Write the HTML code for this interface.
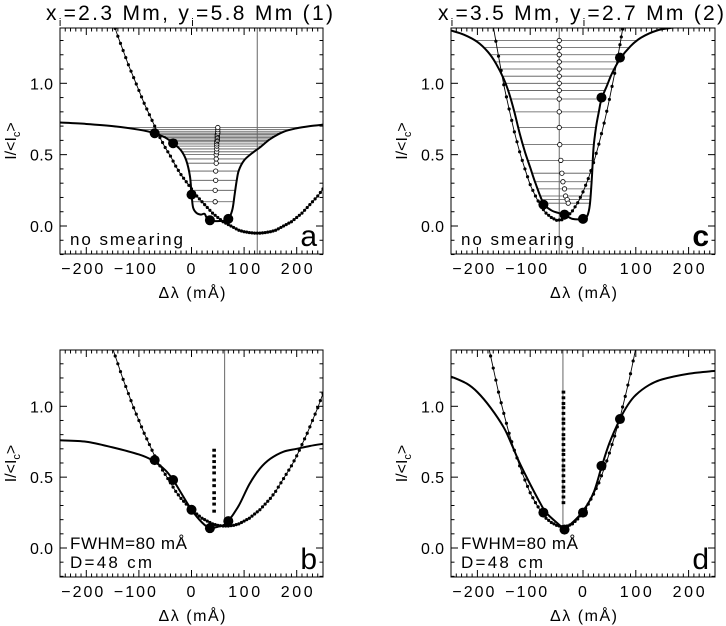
<!DOCTYPE html>
<html><head><meta charset="utf-8"><style>
body{margin:0;background:#fff}
svg{display:block}
text{font-family:"Liberation Sans",sans-serif;fill:#000}
</style></head><body>
<svg id="fig" width="726" height="626" viewBox="0 0 726 626">
<defs>
<clipPath id="clipA"><rect x="60" y="28" width="263" height="226"/></clipPath>
<clipPath id="clipB"><rect x="60" y="350" width="263" height="227"/></clipPath>
<clipPath id="clipC"><rect x="451" y="28" width="264" height="226"/></clipPath>
<clipPath id="clipD"><rect x="451" y="350" width="264" height="227"/></clipPath>
</defs>
<g font-size="21">
<text x="46" y="20" textLength="287" lengthAdjust="spacing">x<tspan font-size="11" dy="6">i</tspan><tspan dy="-6">=2.3 Mm, y</tspan><tspan font-size="11" dy="6">i</tspan><tspan dy="-6">=5.8 Mm (1)</tspan></text>
<text x="438" y="20" textLength="286" lengthAdjust="spacing">x<tspan font-size="11" dy="6">i</tspan><tspan dy="-6">=3.5 Mm, y</tspan><tspan font-size="11" dy="6">i</tspan><tspan dy="-6">=2.7 Mm (2)</tspan></text>
</g>
</svg>
<script>
// ---------- data ----------
const xTicks=[-200,-100,0,100,200];
const xTickLabels=["\u2212200","\u2212100","0","100","200"];
const yTicks=[0,0.5,1.0];
const yTickLabels=["0.0","0.5","1.0"];

const aSolidX=[-250,-200,-150,-100,-70,-50,-35,-20,-10,-3,0,3,10,18,25,30,40,55,65,72,78,82,86,90,100,115,130,150,175,200,225,250];
const aSolidY=[0.725,0.715,0.70,0.675,0.65,0.62,0.58,0.53,0.46,0.35,0.23,0.13,0.09,0.08,0.085,0.05,0.035,0.035,0.04,0.06,0.12,0.22,0.32,0.39,0.46,0.51,0.55,0.61,0.66,0.685,0.70,0.71];
const aParX=[-150,-140,-130,-120,-110,-100,-90,-80,-70,-60,-50,-40,-30,-20,-10,0,10,20,30,40,50,60,70,80,90,100,110,120,130,140,150,160,170,180,190,200,210,220,230,240,250];
const aParY=[1.44,1.33,1.23,1.13,1.04,0.95,0.86,0.78,0.70,0.62,0.55,0.49,0.42,0.36,0.31,0.26,0.21,0.17,0.13,0.09,0.06,0.03,0.01,-0.01,-0.03,-0.04,-0.046,-0.05,-0.05,-0.046,-0.04,-0.03,-0.01,0.01,0.03,0.06,0.09,0.13,0.17,0.21,0.26];
const aDotX=[-70,-35,0,35,70];
const aDotY=[0.65,0.58,0.22,0.04,0.05];
const aBisX=[45,45,46,46,47,47,47,48,48,48,48,48,49,49,49,49,49,50,50,50,50];
const aBisY=[0.17,0.25,0.32,0.385,0.44,0.47,0.50,0.52,0.54,0.56,0.575,0.59,0.60,0.61,0.62,0.63,0.64,0.65,0.66,0.675,0.69];
const aVline=125;

const bSolidX=[-250,-200,-150,-100,-75,-50,-35,-20,0,20,35,50,60,70,90,110,130,150,175,200,225,250];
const bSolidY=[0.76,0.75,0.71,0.66,0.62,0.55,0.48,0.39,0.27,0.18,0.14,0.15,0.16,0.19,0.30,0.45,0.56,0.63,0.68,0.70,0.72,0.735];
const bParX=[-150,-140,-130,-120,-110,-100,-90,-80,-70,-60,-50,-40,-30,-20,-10,0,10,20,30,40,50,60,70,80,90,100,110,120,130,140,150,160,170,180,190,200,210,220,230,240,250];
const bParY=[1.41,1.30,1.19,1.09,0.99,0.90,0.81,0.73,0.65,0.58,0.52,0.46,0.40,0.35,0.31,0.27,0.24,0.21,0.19,0.17,0.16,0.155,0.155,0.16,0.17,0.19,0.21,0.24,0.27,0.31,0.35,0.40,0.46,0.52,0.58,0.65,0.73,0.81,0.90,0.99,1.09];
const bDotX=[-70,-35,0,35,70];
const bDotY=[0.62,0.48,0.27,0.14,0.19];
const bBisX=[43,43,43,43,43,43,43,43,43,43,43];
const bBisY=[0.26,0.31,0.35,0.39,0.44,0.48,0.53,0.57,0.61,0.65,0.69];
const bVline=63;
const bVlineBottom=0.18;

const cSolidX=[-250,-225,-200,-180,-165,-150,-140,-130,-120,-110,-100,-90,-75,-60,-45,-35,-20,0,8,13,17,20,25,30,35,45,55,70,90,110,140,170,200,250];
const cSolidY=[1.37,1.34,1.29,1.22,1.14,1.03,0.93,0.80,0.65,0.52,0.41,0.30,0.16,0.11,0.09,0.08,0.05,0.05,0.07,0.15,0.35,0.55,0.70,0.80,0.89,0.98,1.07,1.17,1.26,1.32,1.37,1.39,1.40,1.42];
const cParX=[-170,-160,-150,-140,-130,-120,-110,-100,-90,-80,-70,-60,-50,-40,-30,-20,-10,0,10,20,30,40,50,60,70,75];
const cParY=[1.40,1.19,0.99,0.82,0.66,0.52,0.40,0.29,0.21,0.14,0.09,0.06,0.04,0.044,0.066,0.106,0.163,0.239,0.332,0.444,0.574,0.721,0.887,1.07,1.27,1.38];
const cDotX=[-75,-35,0,35,70];
const cDotY=[0.15,0.08,0.05,0.90,1.18];
const cBisX=[-45,-45,-45,-45,-45,-45,-45,-45,-45,-45,-45,-44,-42,-40,-38,-35,-33,-30,-28];
const cBisY=[1.30,1.25,1.20,1.15,1.10,1.05,1.00,0.95,0.89,0.80,0.69,0.57,0.46,0.37,0.31,0.26,0.21,0.185,0.16];
const cVline=-45;

const dSolidX=[-250,-220,-200,-175,-150,-135,-120,-100,-80,-70,-50,-35,-20,0,20,35,50,70,85,100,125,150,200,250];
const dSolidY=[1.21,1.16,1.10,0.99,0.85,0.73,0.60,0.45,0.31,0.25,0.18,0.14,0.18,0.26,0.39,0.57,0.74,0.91,1.01,1.08,1.15,1.19,1.23,1.25];
const dParX=[-180,-170,-160,-150,-140,-130,-120,-110,-100,-90,-80,-70,-60,-50,-40,-30,-20,-10,0,10,20,30,40,50,60,70,80,90,100];
const dParY=[1.44,1.27,1.10,0.95,0.81,0.69,0.58,0.48,0.39,0.32,0.26,0.21,0.18,0.16,0.15,0.155,0.17,0.205,0.25,0.31,0.38,0.46,0.56,0.67,0.79,0.92,1.07,1.23,1.41];
const dDotX=[-75,-35,0,35,70];
const dDotY=[0.25,0.13,0.25,0.58,0.91];
const dBisX=[-37,-37,-37,-37,-37,-37,-37,-37,-37,-37,-37,-37,-37,-37,-37,-37,-37,-37,-37,-37,-37,-37];
const dBisY=[0.32,0.36,0.40,0.43,0.47,0.51,0.55,0.58,0.62,0.66,0.69,0.73,0.77,0.80,0.84,0.88,0.91,0.95,0.99,1.02,1.06,1.10];
const dVline=-38;
const dVlineBottom=0.15;

// ---------- drawing ----------
const NS="http://www.w3.org/2000/svg";
const svg=document.getElementById('fig');
function mk(tag,attrs,parent){const e=document.createElementNS(NS,tag);for(const k in attrs)e.setAttribute(k,attrs[k]);(parent||svg).appendChild(e);return e;}

function smoothPath(pts){
  let d="M"+pts[0][0].toFixed(2)+","+pts[0][1].toFixed(2);
  for(let i=0;i<pts.length-1;i++){
    const p0=pts[Math.max(0,i-1)],p1=pts[i],p2=pts[i+1],p3=pts[Math.min(pts.length-1,i+2)];
    const c1x=p1[0]+(p2[0]-p0[0])/6,c1y=p1[1]+(p2[1]-p0[1])/6;
    const c2x=p2[0]-(p3[0]-p1[0])/6,c2y=p2[1]-(p3[1]-p1[1])/6;
    d+=" C"+c1x.toFixed(2)+","+c1y.toFixed(2)+" "+c2x.toFixed(2)+","+c2y.toFixed(2)+" "+p2[0].toFixed(2)+","+p2[1].toFixed(2);
  }
  return d;
}
function crossings(xs,ys,level){
  const res=[];
  for(let i=0;i<xs.length-1;i++){
    const y1=ys[i],y2=ys[i+1];
    if((y1-level)*(y2-level)<=0 && y1!==y2){res.push(xs[i]+(level-y1)/(y2-y1)*(xs[i+1]-xs[i]));}
  }
  return res;
}

function panel(o){
  const g=mk('g',{});
  
  
  const L=o.L,T=o.T,W=o.W,H=o.H;
  const sx=v=>L+(v+250)/500*W;
  const sy=v=>o.y0-v*(o.y0-o.y1);
  const clip=mk('g',{'clip-path':'url(#'+o.clip+')'},g);
  if(o.hlines){
    o.bisY.forEach((lv)=>{
      const cr=crossings(o.solX,o.solY,lv);
      if(cr.length>=2){
        const l=mk('line',{x1:sx(cr[0]),x2:sx(cr[cr.length-1]),y1:sy(lv),y2:sy(lv),stroke:'#555','stroke-width':0.8},clip);
        
        
      }
    });
  }
  const vb=o.vBottom!==undefined?sy(o.vBottom):T+H;
  const vl=mk('line',{x1:sx(o.vline),x2:sx(o.vline),y1:T,y2:vb,stroke:'#666','stroke-width':1},clip);
  
  
  const pp=o.parX.map((x,i)=>[sx(x),sy(o.parY[i])]);
  const par=mk('path',{d:smoothPath(pp),fill:'none',stroke:'#000','stroke-width':0.9},clip);
  
  
  for(let i=0;i<pp.length;i++){
    const m=mk('circle',{cx:pp[i][0],cy:pp[i][1],r:1.6,fill:'#000'},clip);
    
    
    if(i<pp.length-1){
      const m2=mk('circle',{cx:(pp[i][0]+pp[i+1][0])/2,cy:(pp[i][1]+pp[i+1][1])/2,r:1.6,fill:'#000'},clip);
      
      
    }
  }
  const sp=o.solX.map((x,i)=>[sx(x),sy(o.solY[i])]);
  const sol=mk('path',{d:smoothPath(sp),fill:'none',stroke:'#000','stroke-width':2},clip);
  
  
  o.bisX.forEach((x,i)=>{
    let b;
    if(o.hlines) b=mk('circle',{cx:sx(x),cy:sy(o.bisY[i]),r:2.2,fill:'#fff',stroke:'#000','stroke-width':0.8},clip);
    else b=mk('rect',{x:sx(x)-1.8,y:sy(o.bisY[i])-1.5,width:3.6,height:3,fill:'#000'},clip);
    
    
  });
  o.dotX.forEach((x,i)=>{
    const c=mk('circle',{cx:sx(x),cy:sy(o.dotY[i]),r:5,fill:'#000'},clip);
    
    
  });
  const fr=mk('rect',{x:L,y:T,width:W,height:H,fill:'none',stroke:'#000','stroke-width':1},g);
  
  
  for(let v=-250;v<=250;v+=10){
    const len=(v%100===0)?7:3.5;const X=sx(v);
    mk('line',{x1:X,x2:X,y1:T+H,y2:T+H-len,stroke:'#000','stroke-width':1},g);
    mk('line',{x1:X,x2:X,y1:T,y2:T+len,stroke:'#000','stroke-width':1},g);
  }
  xTicks.forEach((v,i)=>{
    const lab=xTickLabels[i];
    const tl=lab.length>=4?42:(lab.length===3?32:10);
    const t=mk('text',{x:sx(v)-tl/2-(lab.length>=4?4:0),y:T+H+20,'font-size':16,textLength:tl,lengthAdjust:'spacing'},g);
    t.textContent=lab;
    
    
  });
  for(let k=-2;k<=13;k++){
    const v=k/10;const len=(k%5===0)?7:3.5;const Y=sy(v);
    mk('line',{x1:L,x2:L+len,y1:Y,y2:Y,stroke:'#000','stroke-width':1},g);
    mk('line',{x1:L+W,x2:L+W-len,y1:Y,y2:Y,stroke:'#000','stroke-width':1},g);
  }
  yTicks.forEach((v,i)=>{
    const t=mk('text',{x:L-30,y:sy(v)+6,'font-size':16,textLength:23,lengthAdjust:'spacing'},g);
    t.textContent=yTickLabels[i];
    
    
  });
  const xt=mk('text',{x:L+W/2-33,y:T+H+44,'font-size':16,textLength:67,lengthAdjust:'spacing'},g);
  xt.textContent="\u0394\u03BB (m\u00C5)";
  
  
  const cy=T+H/2;
  const yt=mk('text',{x:L-44,y:cy,'text-anchor':'middle','font-size':16,transform:'rotate(-90 '+(L-44)+' '+cy+')'},g);
  yt.innerHTML='I/&lt;I<tspan font-size="11" dy="4">c</tspan><tspan dy="-4">&gt;</tspan>';
  
  
  o.notes.forEach((n,i)=>{
    const t=mk('text',{x:L+10,y:T+H-(o.notes.length-1-i)*19-9,'font-size':17,textLength:o.noteLens[i],lengthAdjust:'spacing'},g);
    t.textContent=n;
    
    
  });
  const lt=mk('text',{x:L+W-6,y:T+H-8,'text-anchor':'end','font-size':30,'font-family':o.letterFont,'font-weight':o.letterWeight||'normal'},g);
  lt.textContent=o.id;
  
  
}

panel({id:'a',L:60,T:28,W:263,H:226,y0:226,y1:83.3,clip:'clipA',solX:aSolidX,solY:aSolidY,parX:aParX,parY:aParY,dotX:aDotX,dotY:aDotY,bisX:aBisX,bisY:aBisY,vline:aVline,hlines:true,notes:["no smearing"],noteLens:[113],letterFont:'"Liberation Sans",sans-serif'});
panel({id:'c',L:451,T:28,W:264,H:226,y0:226,y1:83.3,clip:'clipC',solX:cSolidX,solY:cSolidY,parX:cParX,parY:cParY,dotX:cDotX,dotY:cDotY,bisX:cBisX,bisY:cBisY,vline:cVline,hlines:true,notes:["no smearing"],noteLens:[113],letterFont:'"Liberation Serif",serif',letterWeight:'bold'});
panel({id:'b',L:60,T:350,W:263,H:227,y0:548,y1:406.3,clip:'clipB',solX:bSolidX,solY:bSolidY,parX:bParX,parY:bParY,dotX:bDotX,dotY:bDotY,bisX:bBisX,bisY:bBisY,vline:bVline,vBottom:bVlineBottom,hlines:false,notes:["FWHM=80 m\u00C5","D=48 cm"],noteLens:[117,82],letterFont:'"Liberation Serif",serif'});
panel({id:'d',L:451,T:350,W:264,H:227,y0:548,y1:406.3,clip:'clipD',solX:dSolidX,solY:dSolidY,parX:dParX,parY:dParY,dotX:dDotX,dotY:dDotY,bisX:dBisX,bisY:dBisY,vline:dVline,vBottom:dVlineBottom,hlines:false,notes:["FWHM=80 m\u00C5","D=48 cm"],noteLens:[117,82],letterFont:'"Liberation Serif",serif'});
</script>
</body></html>
